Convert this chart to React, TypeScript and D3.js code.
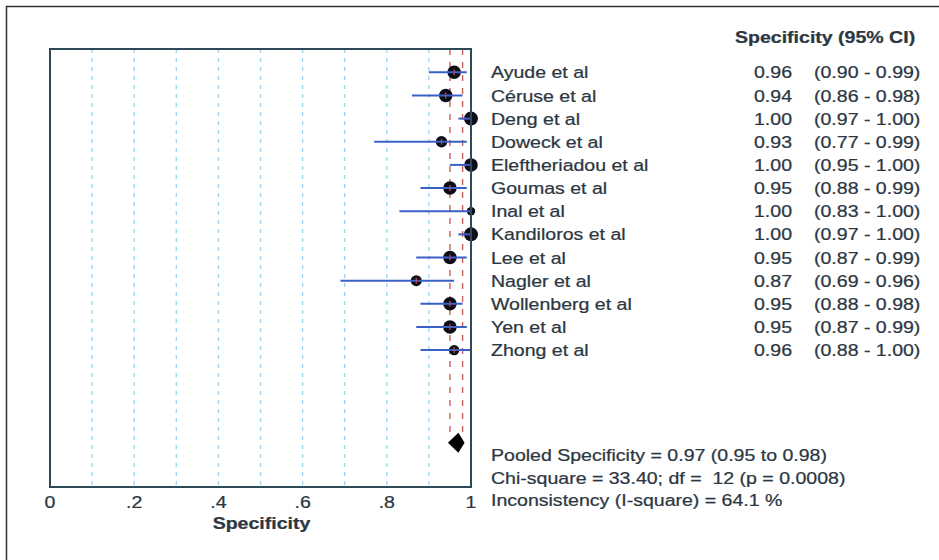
import React from 'react'
import * as d3 from 'd3'

// study rows, top to bottom
const studies = [
  'Ayude et al',
  'Céruse et al',
  'Deng et al',
  'Doweck et al',
  'Eleftheriadou et al',
  'Goumas et al',
  'Inal et al',
  'Kandiloros et al',
  'Lee et al',
  'Nagler et al',
  'Wollenberg et al',
  'Yen et al',
  'Zhong et al',
]
const specificity = [0.96, 0.94, 1.0, 0.93, 1.0, 0.95, 1.0, 1.0, 0.95, 0.87, 0.95, 0.95, 0.96]
const ciLow = [0.9, 0.86, 0.97, 0.77, 0.95, 0.88, 0.83, 0.97, 0.87, 0.69, 0.88, 0.87, 0.88]
const ciHigh = [0.99, 0.98, 1.0, 0.99, 1.0, 0.99, 1.0, 1.0, 0.99, 0.96, 0.98, 0.99, 1.0]
// relative study weight
const markerWeight = [42, 42, 45, 30, 42, 42, 16, 45, 42, 28, 42, 42, 25]

const pooled = { est: 0.97, lo: 0.95, hi: 0.98 }
const pooledRow = 16

const xTicks = [0, 0.2, 0.4, 0.6, 0.8, 1]
const gridTicks = [0.1, 0.2, 0.3, 0.4, 0.5, 0.6, 0.7, 0.8, 0.9]

const summaryLines = [
  'Pooled Specificity = 0.97 (0.95 to 0.98)',
  'Chi-square = 33.40; df =  12 (p = 0.0008)',
  'Inconsistency (I-square) = 64.1 %',
]

const W = 939
const H = 560
const plot = { left: 50, right: 471, top: 49, bottom: 487 }
const FONT = '"Liberation Sans", Arial, sans-serif'
const FS = 17
const SX = 1.15 // the original text is a bit stretched horizontally
const TEXT = '#2c3742'

function T({ x, y, children, anchor = 'start', bold = false, dy = '0.36em' }: any) {
  return (
    <text
      transform={`translate(${x},${y}) scale(${SX},1)`}
      textAnchor={anchor}
      dy={dy}
      fontFamily={FONT}
      fontSize={FS}
      fontWeight={bold ? 'bold' : 'normal'}
      fill={TEXT}
      stroke={TEXT}
      strokeWidth={0.25}
      style={{ whiteSpace: 'pre' }}
    >
      {children}
    </text>
  )
}

export default function App() {
  const x = d3.scaleLinear().domain([0, 1]).range([plot.left, plot.right])
  const y = d3.scaleLinear().domain([0, pooledRow]).range([72.3, 442.7])
  const r = d3.scaleSqrt().domain([0, d3.max(markerWeight) as number]).range([0, 7])

  const diamond = d3.line()([
    [x(pooled.lo) - 2, y(pooledRow)],
    [x(pooled.est), y(pooledRow) - 10],
    [x(pooled.hi) + 2, y(pooledRow)],
    [x(pooled.est), y(pooledRow) + 10],
  ]) + 'Z'

  const fmt = d3.format('.2f')
  const tickFmt = (v: number) => (v === 0 || v === 1 ? String(v) : d3.format('.1f')(v).replace(/^0/, ''))

  return (
    <svg width={W} height={H} style={{ position: 'absolute', left: 0, top: 0, background: '#fff' }}>
      {/* outer frame (only left and top edges show) */}
      <line x1={6.5} y1={6} x2={6.5} y2={H} stroke="#333" strokeWidth={1.5} />
      <line x1={6} y1={6.5} x2={W} y2={6.5} stroke="#333" strokeWidth={1.5} />

      {/* dashed grid */}
      {gridTicks.map((t) => (
        <line
          key={t}
          x1={x(t)}
          x2={x(t)}
          y1={plot.top}
          y2={plot.bottom}
          stroke="#9fd3ee"
          strokeWidth={1.3}
          strokeDasharray="4,5"
        />
      ))}

      {/* pooled CI reference lines */}
      {[pooled.lo, pooled.hi].map((v) => (
        <line
          key={v}
          x1={x(v)}
          x2={x(v)}
          y1={plot.top}
          y2={y(pooledRow) - 4}
          stroke="#c4605c"
          strokeWidth={1.4}
          strokeDasharray="6,7"
        />
      ))}

      {/* study estimates */}
      {studies.map((s, i) => (
        <g key={s}>
          <circle cx={x(specificity[i])} cy={y(i)} r={r(markerWeight[i])} fill="#0d0d1a" />
          <line
            x1={x(ciLow[i])}
            x2={x(ciHigh[i])}
            y1={y(i)}
            y2={y(i)}
            stroke="#3b5fc9"
            strokeWidth={2}
          />
          <line
            x1={x(specificity[i])}
            x2={x(specificity[i])}
            y1={y(i) - 3}
            y2={y(i) + 3}
            stroke="#c0504d"
            strokeWidth={1.2}
          />
        </g>
      ))}

      {/* pooled diamond */}
      <path d={diamond} fill="#000" />

      {/* plot box */}
      <rect
        x={plot.left}
        y={plot.top}
        width={plot.right - plot.left}
        height={plot.bottom - plot.top}
        fill="none"
        stroke="#2e4a58"
        strokeWidth={2}
      />

      {/* x axis labels */}
      {xTicks.map((t) => (
        <T key={t} x={x(t)} y={502} anchor="middle">
          {tickFmt(t)}
        </T>
      ))}
      <T x={x(0.5) + 1} y={523} anchor="middle" bold>
        Specificity
      </T>

      {/* study labels and values */}
      <T x={735} y={37} bold>
        Specificity (95% CI)
      </T>
      {studies.map((s, i) => (
        <g key={'t' + s}>
          <T x={491} y={y(i)}>{s}</T>
          <T x={792} y={y(i)} anchor="end">
            {fmt(specificity[i])}
          </T>
          <T x={814} y={y(i)}>{`(${fmt(ciLow[i])} - ${fmt(ciHigh[i])})`}</T>
        </g>
      ))}

      {/* summary statistics */}
      {summaryLines.map((line, k) => (
        <T key={k} x={491} y={455 + k * 22.5}>
          {line}
        </T>
      ))}
    </svg>
  )
}
